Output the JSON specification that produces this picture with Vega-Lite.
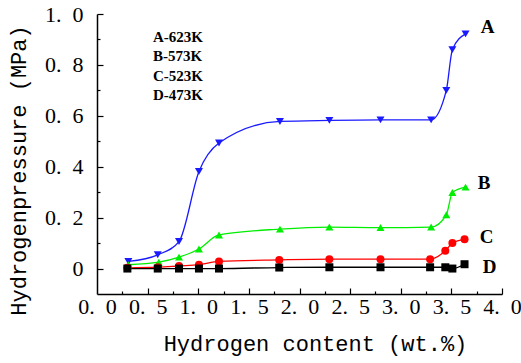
{
  "$schema": "https://vega.github.io/schema/vega-lite/v6.json",
  "width": 405,
  "height": 280,
  "autosize": {"type": "none"},
  "padding": {"left": 97, "top": 14, "right": 19, "bottom": 69},
  "background": "white",
  "config": {"view": {"stroke": null}},
  "resolve": {"axis": {"x": "independent", "y": "independent"}},
  "datasets": {
    "curves": [
      {"s": "A", "x": 0.31, "y": 0.028}, {"s": "A", "x": 0.60, "y": 0.054}, {"s": "A", "x": 0.81, "y": 0.106},
      {"s": "A", "x": 1.007, "y": 0.381}, {"s": "A", "x": 1.205, "y": 0.493}, {"s": "A", "x": 1.807, "y": 0.578},
      {"s": "A", "x": 2.295, "y": 0.582}, {"s": "A", "x": 2.80, "y": 0.584}, {"s": "A", "x": 3.30, "y": 0.584},
      {"s": "A", "x": 3.45, "y": 0.70}, {"s": "A", "x": 3.51, "y": 0.86}, {"s": "A", "x": 3.64, "y": 0.922},
      {"s": "B", "x": 0.31, "y": 0.015}, {"s": "B", "x": 0.61, "y": 0.025}, {"s": "B", "x": 0.81, "y": 0.045},
      {"s": "B", "x": 1.007, "y": 0.077}, {"s": "B", "x": 1.205, "y": 0.132}, {"s": "B", "x": 1.807, "y": 0.155},
      {"s": "B", "x": 2.295, "y": 0.163}, {"s": "B", "x": 2.80, "y": 0.161}, {"s": "B", "x": 3.30, "y": 0.163},
      {"s": "B", "x": 3.45, "y": 0.211}, {"s": "B", "x": 3.51, "y": 0.299}, {"s": "B", "x": 3.64, "y": 0.32},
      {"s": "C", "x": 0.30, "y": 0.003}, {"s": "C", "x": 0.60, "y": 0.005}, {"s": "C", "x": 0.81, "y": 0.01},
      {"s": "C", "x": 1.007, "y": 0.015}, {"s": "C", "x": 1.205, "y": 0.028}, {"s": "C", "x": 1.80, "y": 0.034},
      {"s": "C", "x": 2.295, "y": 0.037}, {"s": "C", "x": 2.80, "y": 0.037}, {"s": "C", "x": 3.29, "y": 0.037},
      {"s": "C", "x": 3.44, "y": 0.07}, {"s": "C", "x": 3.51, "y": 0.10}, {"s": "C", "x": 3.63, "y": 0.115},
      {"s": "D", "x": 0.30, "y": 0.0}, {"s": "D", "x": 0.60, "y": 0.0}, {"s": "D", "x": 0.81, "y": 0.0},
      {"s": "D", "x": 1.007, "y": 0.0}, {"s": "D", "x": 1.205, "y": 0.0}, {"s": "D", "x": 1.80, "y": 0.004},
      {"s": "D", "x": 2.295, "y": 0.005}, {"s": "D", "x": 2.80, "y": 0.005}, {"s": "D", "x": 3.29, "y": 0.005},
      {"s": "D", "x": 3.44, "y": 0.005}, {"s": "D", "x": 3.51, "y": 0.0}, {"s": "D", "x": 3.63, "y": 0.017}
    ],
    "legend": [
      {"t": "A-623K", "x": 0.553, "y": 0.91},
      {"t": "B-573K", "x": 0.553, "y": 0.834},
      {"t": "C-523K", "x": 0.553, "y": 0.757},
      {"t": "D-473K", "x": 0.553, "y": 0.682}
    ],
    "ends": [
      {"t": "A", "x": 3.79, "y": 0.95},
      {"t": "B", "x": 3.76, "y": 0.336},
      {"t": "C", "x": 3.78, "y": 0.125},
      {"t": "D", "x": 3.81, "y": 0.007}
    ]
  },
  "layer": [
    {
      "data": {"name": "curves"},
      "mark": {"type": "line", "interpolate": "monotone", "strokeWidth": 1.3},
      "encoding": {
        "x": {
          "field": "x", "type": "quantitative",
          "scale": {"domain": [0, 4], "nice": false, "zero": false},
          "axis": {
            "orient": "bottom",
            "values": [0, 0.5, 1, 1.5, 2, 2.5, 3, 3.5, 4],
            "labelExpr": "replace(format(datum.value, '.1f'), '.', '.\u2002')",
            "labelFont": "Liberation Serif", "labelFontSize": 22, "labelColor": "#000",
            "labelPadding": 2, "labelBaseline": "top", "labelFlush": false, "labelOverlap": false,
            "ticks": false, "tickSize": 0,
            "domainColor": "#000", "domainWidth": 1.5, "grid": false,
            "title": "Hydrogen content (wt.%)",
            "titleFont": "Liberation Mono", "titleFontSize": 22, "titleFontWeight": "normal", "titleColor": "#000",
            "titleX": 218, "titleY": 49, "titleBaseline": "middle", "titleAlign": "center"
          }
        },
        "y": {
          "field": "y", "type": "quantitative",
          "scale": {"domain": [-0.1, 1.0], "nice": false, "zero": false},
          "axis": {
            "orient": "left",
            "values": [0, 0.2, 0.4, 0.6, 0.8, 1.0],
            "labelExpr": "datum.value === 0 ? '0' : replace(format(datum.value, '.1f'), '.', '.\u2002')",
            "labelFont": "Liberation Serif", "labelFontSize": 22, "labelColor": "#000",
            "labelPadding": 14, "labelFlush": false, "labelOverlap": false, "labelBaseline": "middle",
            "ticks": false, "tickSize": 0,
            "domainColor": "#000", "domainWidth": 1.5, "grid": false,
            "title": "Hydrogenpressure (MPa)",
            "titleFont": "Liberation Mono", "titleFontSize": 22, "titleFontWeight": "normal", "titleColor": "#000",
            "titleX": -79, "titleY": 156, "titleBaseline": "middle", "titleAlign": "center", "titleAngle": -90
          }
        },
        "color": {
          "field": "s", "type": "nominal",
          "scale": {"domain": ["A", "B", "C", "D"], "range": ["#1a1aff", "#00ee00", "#ff0000", "#000000"]},
          "legend": null
        }
      }
    },
    {
      "data": {"name": "curves"},
      "mark": {"type": "point", "filled": true, "opacity": 1},
      "encoding": {
        "x": {
          "field": "x", "type": "quantitative",
          "axis": {
            "orient": "bottom", "offset": -6,
            "values": [0.5, 1, 1.5, 2, 2.5, 3, 3.5, 4],
            "labels": false, "domain": false, "grid": false, "title": null,
            "ticks": true, "tickSize": 6, "tickColor": "#000", "tickWidth": 1.2
          }
        },
        "y": {
          "field": "y", "type": "quantitative",
          "axis": {
            "orient": "left", "offset": -6,
            "values": [0, 0.2, 0.4, 0.6, 0.8, 1.0],
            "labels": false, "domain": false, "grid": false, "title": null,
            "ticks": true, "tickSize": 6, "tickColor": "#000", "tickWidth": 1.2
          }
        },
        "color": {"field": "s", "type": "nominal", "legend": null},
        "shape": {
          "field": "s", "type": "nominal",
          "scale": {"domain": ["A", "B", "C", "D"], "range": ["triangle-down", "triangle-up", "circle", "square"]},
          "legend": null
        },
        "size": {
          "field": "s", "type": "nominal",
          "scale": {"domain": ["A", "B", "C", "D"], "range": [64, 64, 40, 25]},
          "legend": null
        }
      }
    },
    {
      "data": {"name": "legend"},
      "mark": {"type": "text", "align": "left", "baseline": "middle", "font": "Liberation Serif", "fontWeight": "bold", "fontSize": 15, "color": "#000"},
      "encoding": {
        "x": {
          "field": "x", "type": "quantitative",
          "axis": {
            "orient": "bottom", "offset": -3,
            "values": [0.25, 0.75, 1.25, 1.75, 2.25, 2.75, 3.25, 3.75],
            "labels": false, "domain": false, "grid": false, "title": null,
            "ticks": true, "tickSize": 3, "tickColor": "#000", "tickWidth": 1.2
          }
        },
        "y": {
          "field": "y", "type": "quantitative",
          "axis": {
            "orient": "left", "offset": -3,
            "values": [0.1, 0.3, 0.5, 0.7, 0.9],
            "labels": false, "domain": false, "grid": false, "title": null,
            "ticks": true, "tickSize": 3, "tickColor": "#000", "tickWidth": 1.2
          }
        },
        "text": {"field": "t"}
      }
    },
    {
      "data": {"name": "ends"},
      "mark": {"type": "text", "align": "left", "baseline": "middle", "font": "Liberation Serif", "fontWeight": "bold", "fontSize": 19, "color": "#000"},
      "encoding": {
        "x": {"field": "x", "type": "quantitative", "axis": null},
        "y": {"field": "y", "type": "quantitative", "axis": null},
        "text": {"field": "t"}
      }
    }
  ]
}
